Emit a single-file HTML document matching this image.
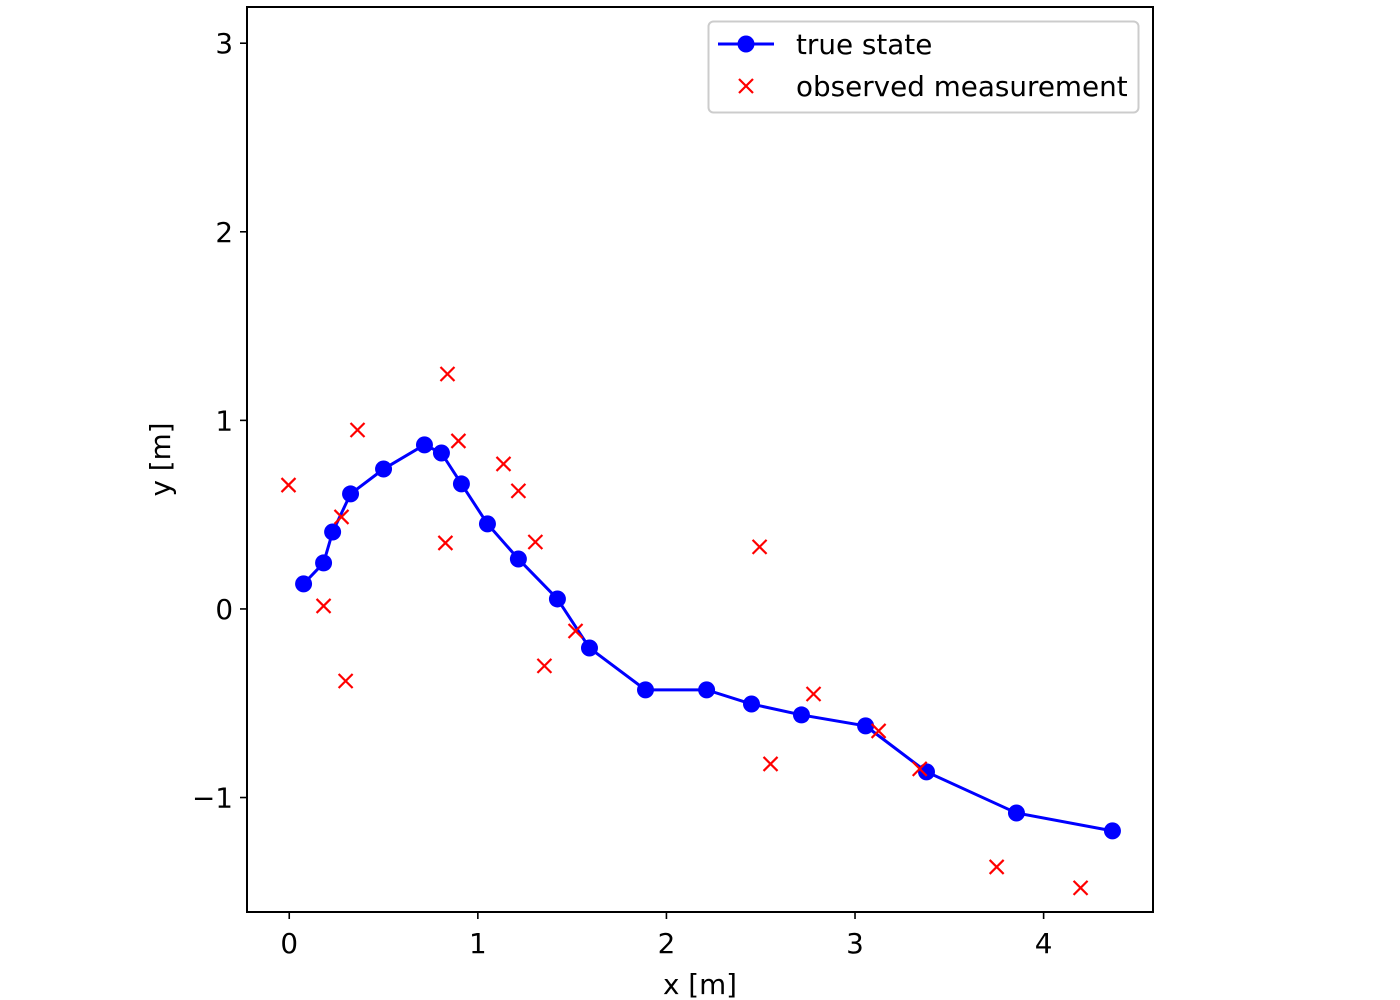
<!DOCTYPE html>
<html><head><meta charset="utf-8"><style>
body{margin:0;background:#fff;}
svg{display:block;font-family:"DejaVu Sans","Liberation Sans",sans-serif;}
</style></head><body>
<svg id="chart" width="1400" height="1000" xmlns="http://www.w3.org/2000/svg">
<rect width="1400" height="1000" fill="#fff"/>
<g id="plot"></g>
<g id="axes"></g>
<g id="legend">
<rect x="708.5" y="21.5" width="430" height="91" rx="5" fill="#fff" fill-opacity="0.8" stroke="#ccc" stroke-width="2"/>
<line x1="718" y1="44" x2="774" y2="44" stroke="#0000ff" stroke-width="3"/>
<circle cx="746" cy="44" r="8.5" fill="#0000ff"/>
<text x="796" y="54" font-size="27.8">true state</text>
<path d="M739,79 L753,93 M753,79 L739,93" stroke="#ff0000" stroke-width="2.2"/>
<text x="796" y="96" font-size="27.8">observed measurement</text>
</g>
</svg>
<script>
const trueX=[0.076,0.182,0.23,0.325,0.5,0.717,0.807,0.913,1.051,1.215,1.422,1.592,1.889,2.213,2.451,2.716,3.056,3.379,3.856,4.365];
const trueY=[0.133,0.244,0.408,0.61,0.742,0.87,0.827,0.663,0.451,0.265,0.053,-0.207,-0.429,-0.429,-0.504,-0.562,-0.62,-0.864,-1.082,-1.177];
const obsX=[-0.004,0.182,0.299,0.277,0.362,0.828,0.839,0.897,1.136,1.215,1.305,1.353,1.518,2.494,2.552,2.78,3.125,3.343,3.751,4.196];
const obsY=[0.657,0.016,-0.382,0.488,0.949,0.35,1.246,0.891,0.769,0.626,0.355,-0.302,-0.117,0.329,-0.822,-0.451,-0.647,-0.848,-1.368,-1.479];
const xTicks=[0,1,2,3,4];
const yTicks=[-1,0,1,2,3];
const xTickLabels=["0","1","2","3","4"];
const yTickLabels=["\u22121","0","1","2","3"];

const L=247,R=1153,T=7,B=912;
const xMin=-0.224,xMax=4.58,yMin=-1.607,yMax=3.192;
const sx=v=>L+(v-xMin)/(xMax-xMin)*(R-L);
const sy=v=>B-(v-yMin)/(yMax-yMin)*(B-T);
const NS="http://www.w3.org/2000/svg";
function mk(tag,attrs,parent){const e=document.createElementNS(NS,tag);for(const k in attrs)e.setAttribute(k,attrs[k]);parent.appendChild(e);return e;}
const plot=document.getElementById('plot'),axes=document.getElementById('axes');

const line=mk('polyline',{points:trueX.map((x,i)=>sx(x)+','+sy(trueY[i])).join(' '),fill:'none',stroke:'#0000ff','stroke-width':3},plot);


trueX.forEach((x,i)=>{
 const c=mk('circle',{cx:sx(x),cy:sy(trueY[i]),r:8.5,fill:'#0000ff'},plot);
 
 
});
obsX.forEach((x,i)=>{
 const cx=sx(x),cy=sy(obsY[i]);
 const p=mk('path',{d:`M${cx-7},${cy-7} L${cx+7},${cy+7} M${cx+7},${cy-7} L${cx-7},${cy+7}`,stroke:'#ff0000','stroke-width':2.2},plot);
 
 
});

const frame=mk('rect',{x:L,y:T,width:R-L,height:B-T,fill:'none',stroke:'#000','stroke-width':2},axes);


xTicks.forEach((v,i)=>{
 const x=sx(v);
 const t=mk('line',{x1:x,y1:B,x2:x,y2:B+7,stroke:'#000','stroke-width':1.6},axes);
 
 
 const tx=mk('text',{x:x,y:B+41,'font-size':27.8,'text-anchor':'middle'},axes);
 tx.textContent=xTickLabels[i];
 
 
});
yTicks.forEach((v,i)=>{
 const y=sy(v);
 const t=mk('line',{x1:L-7,y1:y,x2:L,y2:y,stroke:'#000','stroke-width':1.6},axes);
 
 
 const tx=mk('text',{x:L-14,y:y+10,'font-size':27.8,'text-anchor':'end'},axes);
 tx.textContent=yTickLabels[i];
 
 
});
const xt=mk('text',{x:(L+R)/2,y:994,'font-size':27.8,'text-anchor':'middle'},axes);
xt.textContent='x [m]';


const yt=mk('text',{x:0,y:0,'font-size':27.8,'text-anchor':'middle',transform:`translate(170,${(T+B)/2}) rotate(-90)`},axes);
yt.textContent='y [m]';


</script>
</body></html>
